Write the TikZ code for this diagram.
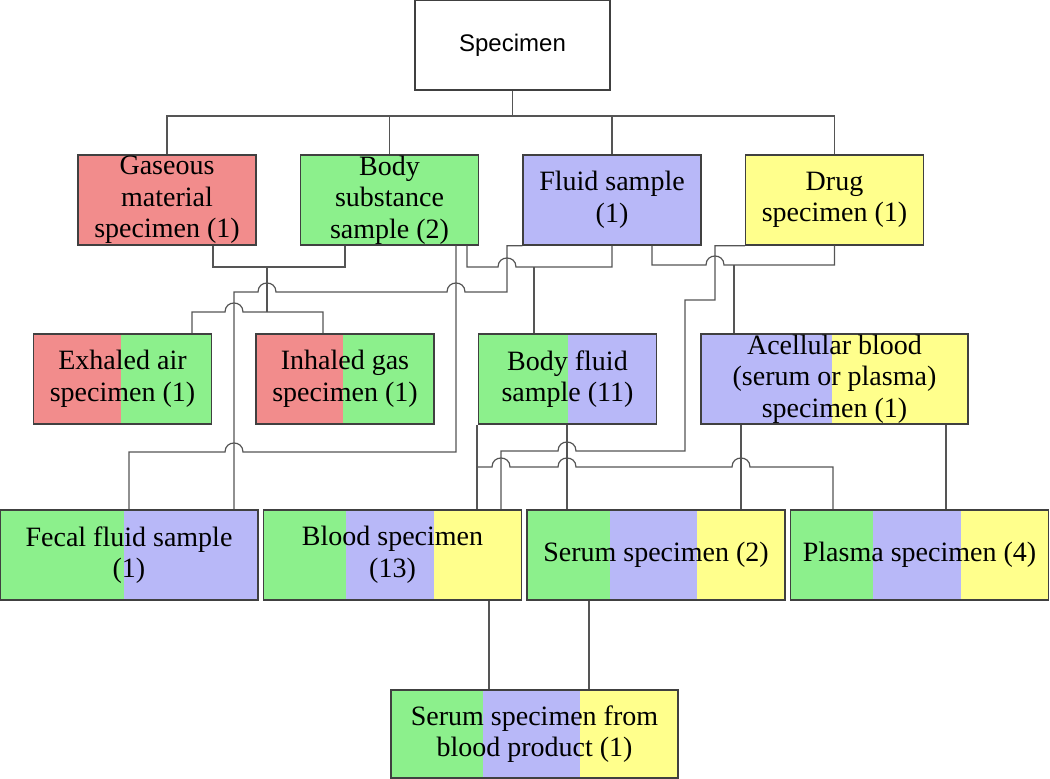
\documentclass[tikz,border=0pt]{standalone}
\usepackage{fontspec}
\setmainfont{Liberation Serif}
\newfontfamily\headfont{Liberation Sans}
\usepackage{tikz}
\usetikzlibrary{positioning, calc}

% line jumps over a crossing line (to the right / to the left)
\newcommand{\hopr}{.. controls +(0,-12) and +(0,-12) .. ++(18,0)}
\newcommand{\hopl}{.. controls +(0,-12) and +(0,-12) .. ++(-18,0)}

\begin{document}
\begin{tikzpicture}[x=0.5pt, y=-0.5pt, node distance=21.5pt, every node/.style={font=\fontsize{14}{15.75}\selectfont}]
    % Define the box styles
    \tikzset{
        block/.style={draw=edgegray, line width=0.75pt, rectangle, align=center, minimum width=89pt, minimum height=45pt, inner xsep=1pt, inner ysep=0pt},
        wide/.style={minimum width=129pt},
        link/.style={draw=linkgray, line width=0.6pt},
        split/.style n args={3}{path picture={
            \fill[#1] (path picture bounding box.north west) rectangle ($(path picture bounding box.south west)!#3!(path picture bounding box.south east)$);
            \fill[#2] ($(path picture bounding box.north west)!#3!(path picture bounding box.north east)$) rectangle (path picture bounding box.south east);
        }},
        tri/.style={path picture={
            \fill[bodygreen] (path picture bounding box.north west) rectangle ($(path picture bounding box.south west)!0.32!(path picture bounding box.south east)$);
            \fill[fluidblue] ($(path picture bounding box.north west)!0.32!(path picture bounding box.north east)$) rectangle ($(path picture bounding box.south west)!0.66!(path picture bounding box.south east)$);
            \fill[drugyellow] ($(path picture bounding box.north west)!0.66!(path picture bounding box.north east)$) rectangle (path picture bounding box.south east);
        }},
    }
    % Define colors for the kinds of specimen
    \definecolor{gasred}{RGB}{242,140,140}
    \definecolor{bodygreen}{RGB}{140,240,140}
    \definecolor{fluidblue}{RGB}{184,184,248}
    \definecolor{drugyellow}{RGB}{255,255,140}
    \definecolor{edgegray}{RGB}{64,64,64}
    \definecolor{linkgray}{RGB}{85,85,85}

    \useasboundingbox (0,0) rectangle (1050,779);

    % Nodes
    \node[block, minimum width=97.5pt, font=\headfont\fontsize{12}{14}\selectfont] (spec) at (512.5,45) {Specimen};

    \node[block, fill=gasred] (gas) at (167,200) {Gaseous\\material\\specimen (1)};
    \node[block, fill=bodygreen, right=of gas] (body) {Body\\substance\\sample (2)};
    \node[block, fill=fluidblue, right=of body] (fluid) {Fluid sample\\(1)};
    \node[block, fill=drugyellow, right=of fluid] (drug) {Drug\\specimen (1)};

    \node[block, split={gasred}{bodygreen}{0.49}] (exh) at (122.5,379) {Exhaled air\\specimen (1)};
    \node[block, split={gasred}{bodygreen}{0.49}, right=of exh] (inh) {Inhaled gas\\specimen (1)};
    \node[block, split={bodygreen}{fluidblue}{0.5}, right=of inh] (bfluid) {Body fluid\\sample (11)};
    \node[block, split={fluidblue}{drugyellow}{0.49}, minimum width=133.5pt, right=of bfluid] (acell) {Acellular blood\\(serum or plasma)\\specimen (1)};

    \node[block, wide, split={bodygreen}{fluidblue}{0.48}] (fecal) at (129,555) {Fecal fluid sample\\(1)};
    \node[block, wide, tri, right=2pt of fecal] (blood) {Blood specimen\\(13)};
    \node[block, wide, tri, right=2pt of blood] (serum) {Serum specimen (2)};
    \node[block, wide, tri, right=2pt of serum] (plasma) {Plasma specimen (4)};

    \node[block, tri, minimum width=143.5pt, minimum height=44pt] (sbp) at (534.5,734) {Serum specimen from\\blood product (1)};

    % Junction points
    \coordinate (bus) at (512.5,116);
    \coordinate (j1) at (267,267);
    \coordinate (j2) at (534,267);
    \coordinate (j3) at (734,265);
    \coordinate (j4) at (477,467);

    % Lines connecting the nodes
    \draw[link] (spec.south) -- (bus);
    \foreach \n in {gas,body,fluid,drug}
        \draw[link] (bus) -| (\n.north);

    \draw[link] (gas.south -| 213,0) |- (j1) -| (body.south -| 345,0);
    \draw[link] (j1) -- (267,312);
    \draw[link] (exh.north -| 192,0) |- (225,312) \hopr -- (323,312) -- (inh.north -| 323,0);

    \draw[link] (fluid.south west) -| (507,292) -- (465,292) \hopl -- (276,292) \hopl -| (fecal.north -| 234,0);
    \draw[link] (body.south -| 456,0) |- (243,452) \hopl -| (fecal.north);

    \draw[link] (body.south -| 467,0) |- (498,267) \hopr -| (fluid.south);
    \draw[link] (j2) -- (bfluid.north -| j2);

    \draw[link] (fluid.south -| 652,0) |- (706,265) \hopr -| (drug.south);
    \draw[link] (j3) -- (acell.north -| j3);

    \draw[link] (drug.south west) -| (715,300) -| (685,451) -- (576,451) \hopl -| (blood.north -| 501,0);

    \draw[link] (bfluid.south -| 477,0) -- (blood.north -| 477,0);
    \draw[link] (j4) -- (492,467) \hopr -- (558,467) \hopr -- (732,467) \hopr -| (plasma.north -| 833,0);
    \draw[link] (bfluid.south -| 567,0) -- (serum.north -| 567,0);
    \draw[link] (acell.south -| 741,0) -- (serum.north -| 741,0);
    \draw[link] (acell.south -| 946,0) -- (plasma.north -| 946,0);

    \draw[link] (blood.south -| 489,0) -- (sbp.north -| 489,0);
    \draw[link] (serum.south -| 589,0) -- (sbp.north -| 589,0);

\end{tikzpicture}
\end{document}
